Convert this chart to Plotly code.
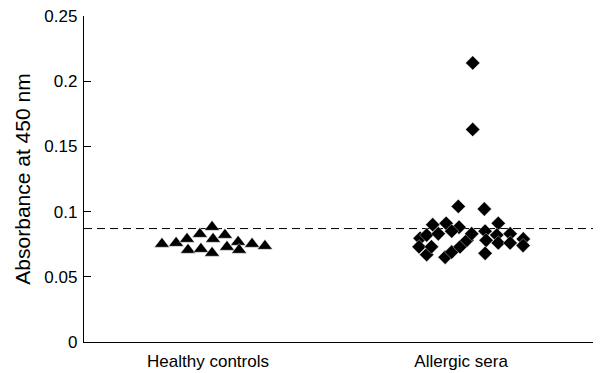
import plotly.graph_objects as go

# ---- data ----
categories = ["Healthy controls", "Allergic sera"]
y_ticks = [0, 0.05, 0.1, 0.15, 0.2, 0.25]
y_tick_labels = ["0", "0.05", "0.1", "0.15", "0.2", "0.25"]
cutoff = 0.087

healthy_offset = [-0.182, -0.126, -0.083, -0.079, -0.032, -0.028, 0.016, 0.020,
                  0.016, 0.067, 0.075, 0.119, 0.123, 0.174, 0.225]
healthy_values = [0.0752, 0.0759, 0.0790, 0.0706, 0.0828, 0.0713, 0.0882, 0.0790,
                  0.0683, 0.0821, 0.0729, 0.0767, 0.0706, 0.0752, 0.0736]

allergic_offset = [0.046, 0.046, -0.011, 0.092, -0.112, -0.059, -0.008, 0.147,
                   -0.162, -0.166, -0.136, -0.090, -0.037, -0.136, -0.117, -0.063,
                   -0.037, -0.004, 0.023, 0.042, 0.095, 0.099, 0.095, 0.141,
                   0.147, 0.194, 0.194, 0.246, 0.245]
allergic_values = [0.214, 0.163, 0.104, 0.102, 0.090, 0.091, 0.088, 0.091,
                   0.0795, 0.073, 0.082, 0.083, 0.085, 0.067, 0.073, 0.065,
                   0.069, 0.073, 0.078, 0.083, 0.085, 0.078, 0.068, 0.082,
                   0.076, 0.083, 0.076, 0.079, 0.074]

FONT = "Liberation Sans, Arial, sans-serif"

fig = go.Figure()
fig.add_trace(go.Scatter(
    x=[0 + o for o in healthy_offset], y=healthy_values, mode="markers",
    marker=dict(symbol="triangle-up", size=13, color="black",
                line=dict(color="white", width=0.4)),
    showlegend=False, hoverinfo="skip"))
fig.add_trace(go.Scatter(
    x=[1 + o for o in allergic_offset], y=allergic_values, mode="markers",
    marker=dict(symbol="diamond", size=11, color="black",
                line=dict(color="white", width=0.4)),
    showlegend=False, hoverinfo="skip"))

fig.add_shape(type="line", xref="paper", yref="y", x0=0, x1=1, y0=cutoff, y1=cutoff,
              line=dict(color="black", width=1, dash="8px,5px"), layer="below")

# page body has an 8px default margin, so the figure is sized/offset for it
fig.update_layout(
    width=593, height=365,
    margin=dict(l=76, r=1, t=8, b=31),
    paper_bgcolor="white", plot_bgcolor="white",
    font=dict(family=FONT, color="black", size=17),
    xaxis=dict(range=[-0.49, 1.549], tickvals=[0, 1], ticktext=categories,
               automargin=False, ticklabelstandoff=3,
               showgrid=False, zeroline=False, showline=True, linecolor="black",
               linewidth=1.3, ticks="", tickfont=dict(size=17, family=FONT)),
    yaxis=dict(range=[0, 0.25], tickvals=y_ticks, ticktext=y_tick_labels,
               automargin=False, ticklabelstandoff=2, ticklabeloverflow="allow",
               showgrid=False, zeroline=False, showline=True, linecolor="black",
               linewidth=1.3, ticks="inside", ticklen=7, tickcolor="black",
               tickfont=dict(size=17, family=FONT),
               title=dict(text="Absorbance at 450 nm", standoff=8,
                          font=dict(size=21, family=FONT))),
)

fig.write_html("out.html")
